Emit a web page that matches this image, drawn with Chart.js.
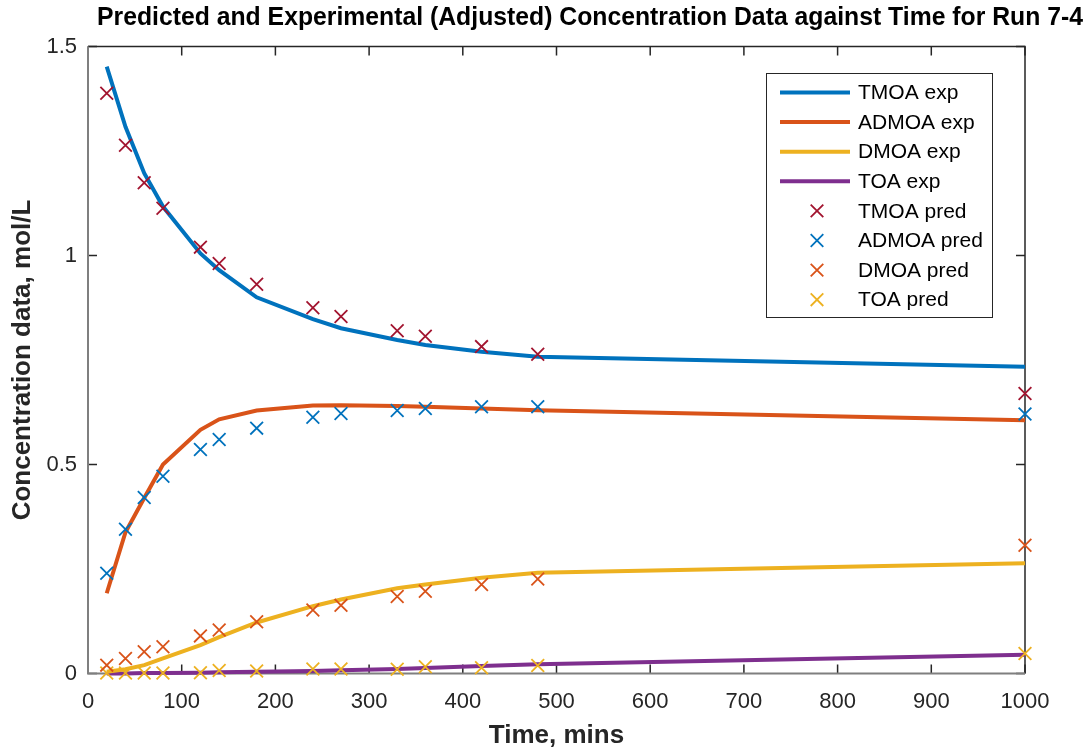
<!DOCTYPE html>
<html>
<head>
<meta charset="utf-8">
<title>Run 7-4 concentration data</title>
<script src="https://cdn.jsdelivr.net/npm/chart.js@4/dist/chart.umd.min.js"></script>
<style>
  html, body { margin: 0; padding: 0; background: #ffffff; }
  canvas { display: block; }
</style>
</head>
<body>
<canvas id="chart" width="1088" height="747"></canvas>
<script>
// Sampling times (min)
const time = [20, 40, 60, 80, 120, 140, 180, 240, 270, 330, 360, 420, 480, 1000];

// Solid curves (mol/L)
const tmoaExp  = [1.452, 1.308, 1.197, 1.117, 1.005, 0.965, 0.900, 0.848, 0.826, 0.798, 0.786, 0.770, 0.758, 0.734];
const admoaExp = [0.192, 0.338, 0.420, 0.500, 0.583, 0.608, 0.629, 0.641, 0.642, 0.640, 0.638, 0.634, 0.630, 0.606];
const dmoaExp  = [0.004, 0.010, 0.020, 0.036, 0.068, 0.087, 0.122, 0.161, 0.177, 0.204, 0.213, 0.229, 0.241, 0.264];
const toaExp   = [0.000, 0.000, 0.001, 0.001, 0.002, 0.003, 0.004, 0.006, 0.008, 0.011, 0.013, 0.018, 0.022, 0.045];

// Cross markers (mol/L)
const tmoaPred  = [1.388, 1.264, 1.174, 1.113, 1.020, 0.981, 0.931, 0.875, 0.854, 0.820, 0.807, 0.782, 0.764, 0.670];
const admoaPred = [0.240, 0.345, 0.421, 0.472, 0.536, 0.560, 0.587, 0.613, 0.622, 0.629, 0.634, 0.638, 0.638, 0.621];
const dmoaPred  = [0.020, 0.036, 0.052, 0.064, 0.090, 0.104, 0.124, 0.152, 0.163, 0.184, 0.197, 0.213, 0.226, 0.307];
const toaPred   = [0.001, 0.001, 0.001, 0.001, 0.002, 0.007, 0.006, 0.011, 0.011, 0.010, 0.016, 0.014, 0.019, 0.048];

// Axis ticks
const xTicks = [0, 100, 200, 300, 400, 500, 600, 700, 800, 900, 1000];
const yTicks = [0, 0.5, 1, 1.5];

const titleText = 'Predicted and Experimental (Adjusted) Concentration Data against Time for Run 7-4';
const xLabel = 'Time, mins';
const yLabel = 'Concentration data, mol/L';

const C = {
  blue: '#0072BD', orange: '#D95319', yellow: '#EDB120',
  purple: '#7E2F8E', red: '#A2142F', axis: '#262626', axisSoft: '#7f7f7f'
};

const pts = (ys) => time.map((t, i) => ({ x: t, y: ys[i] }));

const lineSet = (label, ys, color) => ({
  label, data: pts(ys), kind: 'line',
  borderColor: color, backgroundColor: color, borderWidth: 4,
  pointRadius: 0, pointHoverRadius: 0, tension: 0, fill: false,
  order: 2, clip: false
});
const crossSet = (label, ys, color) => ({
  label, data: pts(ys), kind: 'cross',
  showLine: false, borderColor: color, backgroundColor: color,
  pointStyle: 'crossRot', pointRadius: 9, pointBorderWidth: 1.8,
  pointHoverRadius: 9, order: 1, clip: false
});

const datasets = [
  lineSet('TMOA exp', tmoaExp, C.blue),
  lineSet('ADMOA exp', admoaExp, C.orange),
  lineSet('DMOA exp', dmoaExp, C.yellow),
  lineSet('TOA exp', toaExp, C.purple),
  crossSet('TMOA pred', tmoaPred, C.red),
  crossSet('ADMOA pred', admoaPred, C.blue),
  crossSet('DMOA pred', dmoaPred, C.orange),
  crossSet('TOA pred', toaPred, C.yellow)
];

const FONT = '"Liberation Sans", Arial, Helvetica, sans-serif';

// Box around the plotting area with inward ticks on every side
const boxPlugin = {
  id: 'axesBox',
  beforeDatasetsDraw(chart) {
    const { ctx, chartArea: a, scales } = chart;
    const tl = 9;
    ctx.save();
    ctx.lineWidth = 1.5;
    ctx.strokeStyle = C.axis;
    ctx.beginPath();
    xTicks.forEach(v => {
      const px = scales.x.getPixelForValue(v);
      ctx.moveTo(px, a.bottom); ctx.lineTo(px, a.bottom - tl);
      ctx.moveTo(px, a.top); ctx.lineTo(px, a.top + tl);
    });
    yTicks.forEach(v => {
      const py = scales.y.getPixelForValue(v);
      ctx.moveTo(a.left, py); ctx.lineTo(a.left + tl, py);
      ctx.moveTo(a.right, py); ctx.lineTo(a.right - tl, py);
    });
    ctx.stroke();
    // top and right edges
    ctx.beginPath();
    ctx.moveTo(a.left, a.top); ctx.lineTo(a.right, a.top); ctx.lineTo(a.right, a.bottom);
    ctx.stroke();
    // left and bottom edges
    ctx.strokeStyle = C.axisSoft;
    ctx.lineWidth = 2;
    ctx.beginPath();
    ctx.moveTo(a.left, a.top); ctx.lineTo(a.left, a.bottom); ctx.lineTo(a.right, a.bottom);
    ctx.stroke();
    ctx.restore();
  }
};

// Title, axis titles and the boxed legend
const textPlugin = {
  id: 'texts',
  afterDraw(chart) {
    const { ctx, chartArea: a } = chart;
    ctx.save();
    ctx.fillStyle = '#000000';
    ctx.textBaseline = 'middle';

    // title (narrow bold face)
    ctx.font = 'bold 26px ' + FONT;
    const tw = ctx.measureText(titleText).width;
    const target = 986;
    ctx.save();
    ctx.translate(97, 18);
    ctx.scale(target / tw, 1);
    ctx.textAlign = 'left';
    ctx.fillText(titleText, 0, 0);
    ctx.restore();

    // x axis title
    ctx.font = 'bold 26px ' + FONT;
    ctx.fillStyle = '#262626';
    ctx.textAlign = 'center';
    ctx.fillText(xLabel, (a.left + a.right) / 2, 736);

    // y axis title
    ctx.save();
    ctx.translate(23, (a.top + a.bottom) / 2);
    ctx.rotate(-Math.PI / 2);
    ctx.fillText(yLabel, 0, 0);
    ctx.restore();

    // legend
    const lx = 766, ly = 73, lw = 226, lh = 244;
    ctx.fillStyle = '#ffffff';
    ctx.fillRect(lx, ly, lw, lh);
    ctx.strokeStyle = '#262626';
    ctx.lineWidth = 1;
    ctx.strokeRect(lx + 0.5, ly + 0.5, lw, lh);
    ctx.font = '21px ' + FONT;
    ctx.textAlign = 'left';
    chart.data.datasets.forEach((ds, i) => {
      const y = 92.5 + i * 29.6;
      if (ds.kind === 'line') {
        ctx.strokeStyle = ds.borderColor;
        ctx.lineWidth = 4;
        ctx.beginPath();
        ctx.moveTo(780, y); ctx.lineTo(850, y);
        ctx.stroke();
      } else {
        const r = 6.3;
        ctx.strokeStyle = ds.borderColor;
        ctx.lineWidth = 1.8;
        ctx.beginPath();
        ctx.moveTo(817 - r, y - r); ctx.lineTo(817 + r, y + r);
        ctx.moveTo(817 - r, y + r); ctx.lineTo(817 + r, y - r);
        ctx.stroke();
      }
      ctx.fillStyle = '#000000';
      ctx.fillText(ds.label, 858, y + 1);
    });
    ctx.restore();
  }
};

new Chart(document.getElementById('chart'), {
  type: 'line',
  data: { datasets },
  options: {
    responsive: false,
    animation: false,
    devicePixelRatio: 1,
    layout: { padding: { top: 46.5, right: 63, left: 0, bottom: 0 } },
    plugins: { legend: { display: false }, title: { display: false }, tooltip: { enabled: false } },
    events: [],
    scales: {
      x: {
        type: 'linear', min: 0, max: 1000,
        grid: { display: false, drawTicks: false },
        border: { display: false },
        afterBuildTicks: (s) => { s.ticks = xTicks.map(v => ({ value: v })); },
        afterFit: (s) => { s.height = 73.5; },
        ticks: {
          autoSkip: false, maxRotation: 0, padding: 15,
          color: '#262626', font: { family: FONT, size: 22 },
          callback: (v) => String(v)
        }
      },
      y: {
        type: 'linear', min: 0, max: 1.5,
        grid: { display: false, drawTicks: false },
        border: { display: false },
        afterBuildTicks: (s) => { s.ticks = yTicks.map(v => ({ value: v })); },
        afterFit: (s) => { s.width = 88; },
        ticks: {
          autoSkip: false, padding: 11,
          color: '#262626', font: { family: FONT, size: 22 },
          callback: (v) => String(v)
        }
      }
    }
  },
  plugins: [boxPlugin, textPlugin]
});
</script>
</body>
</html>
